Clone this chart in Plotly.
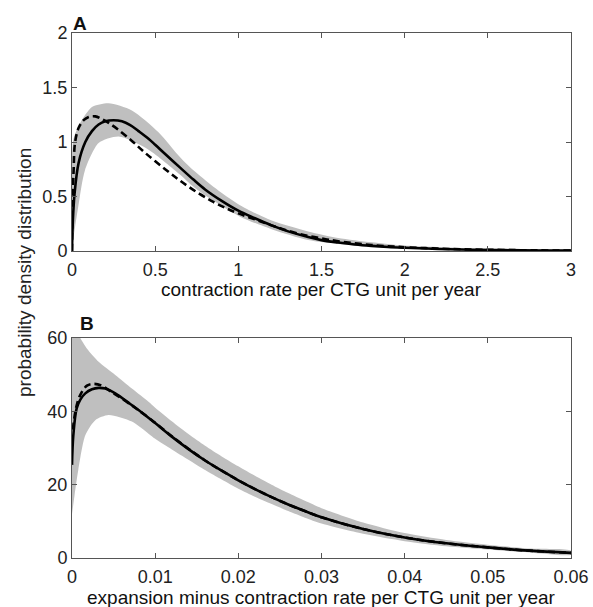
import plotly.graph_objects as go

# ---------------- Panel A data ----------------
a_solid_x = [0, 0.005, 0.015, 0.04, 0.08, 0.12, 0.16, 0.2, 0.25, 0.3, 0.35, 0.4, 0.46, 0.5, 0.56,
             0.65, 0.73, 0.8, 0.9, 1.0, 1.1, 1.2, 1.3, 1.42, 1.5, 1.6, 1.7, 1.8, 1.9, 2.0, 2.2,
             2.4, 2.6, 2.8, 3.0]
a_solid_y = [0, 0.27, 0.52, 0.81, 1.0, 1.1, 1.16, 1.19, 1.2, 1.19, 1.155, 1.1, 1.03, 0.975, 0.89,
             0.765, 0.655, 0.565, 0.46, 0.37, 0.3, 0.235, 0.18, 0.128, 0.1, 0.078, 0.06, 0.047,
             0.037, 0.03, 0.019, 0.012, 0.008, 0.005, 0.003]

a_dash_x = [0, 0.003, 0.01, 0.018, 0.04, 0.07, 0.1, 0.14, 0.18, 0.23, 0.28, 0.36, 0.44, 0.56,
            0.65, 0.75, 0.85, 0.93, 1.0, 1.1, 1.2, 1.3, 1.4, 1.5, 1.6, 1.8, 2.0, 2.2, 2.4, 2.6,
            2.8, 3.0]
a_dash_y = [0, 0.45, 0.75, 0.99, 1.13, 1.2, 1.23, 1.235, 1.21, 1.165, 1.11, 1.01, 0.9, 0.75,
            0.645, 0.54, 0.45, 0.39, 0.345, 0.29, 0.235, 0.185, 0.145, 0.115, 0.09, 0.055, 0.035,
            0.022, 0.014, 0.009, 0.006, 0.004]

a_upper_x = [0, 0.008, 0.048, 0.12, 0.22, 0.36, 0.52, 0.65, 0.73, 0.85, 1.01, 1.2, 1.42, 1.6,
             1.8, 2.0, 2.3, 2.6, 3.0]
a_upper_y = [0, 1.02, 1.17, 1.32, 1.355, 1.29, 1.09, 0.86, 0.74, 0.59, 0.42, 0.28, 0.18, 0.12,
             0.08, 0.05, 0.03, 0.015, 0.006]
a_lower_x = [0, 0.01, 0.038, 0.078, 0.16, 0.28, 0.46, 0.65, 0.73, 0.85, 1.01, 1.2, 1.42, 1.6,
             1.8, 2.0, 2.3, 2.6, 3.0]
a_lower_y = [0, 0.13, 0.41, 0.74, 0.99, 1.05, 0.93, 0.70, 0.59, 0.46, 0.315, 0.2, 0.1, 0.065,
             0.04, 0.025, 0.012, 0.006, 0.002]

# ---------------- Panel B data ----------------
b_solid_x = [0, 0.00016, 0.00056, 0.001, 0.0016, 0.0024, 0.0032, 0.004, 0.0052, 0.007, 0.0085,
             0.01, 0.012, 0.014, 0.016, 0.018, 0.02, 0.022, 0.024, 0.026, 0.028, 0.03, 0.035,
             0.04, 0.045, 0.05, 0.055, 0.06]
b_solid_y = [25.4, 33.5, 40.8, 43.2, 44.9, 46.0, 46.4, 46.2, 44.9, 42.0, 39.5,
             36.8, 33.1, 29.7, 26.6, 23.8, 21.2, 18.8, 16.6, 14.6, 12.8, 11.1, 7.9,
             5.6, 4.0, 2.9, 2.0, 1.4]

b_dash_x = [0.0001, 0.0005, 0.001, 0.0018, 0.0026, 0.0036, 0.0046, 0.006, 0.008, 0.01, 0.012,
            0.014, 0.016, 0.018, 0.02, 0.022, 0.024, 0.026, 0.028, 0.03, 0.035, 0.04, 0.045,
            0.05, 0.055, 0.06]
b_dash_y = [35, 41, 44.5, 47.0, 47.5, 47.0, 45.5, 43.5, 40.3, 36.9, 33.2,
            29.8, 26.6, 23.8, 21.2, 18.8, 16.6, 14.6, 12.8, 11.1, 7.9, 5.6, 4.0,
            2.9, 2.0, 1.4]

b_upper_x = [0, 0.001, 0.002, 0.0032, 0.0052, 0.0072, 0.0092, 0.01, 0.012, 0.014, 0.016, 0.018,
             0.02, 0.022, 0.024, 0.026, 0.028, 0.03, 0.035, 0.04, 0.045, 0.05, 0.055, 0.06]
b_upper_y = [66, 60, 56.5, 53.5, 49.9, 46.2, 42.6, 41.0, 37.3, 33.8, 30.6, 27.7,
             25.0, 22.4, 20.0, 17.7, 15.6, 13.6, 9.7, 6.8, 4.9, 3.6, 2.6, 2.0]
b_lower_x = [0, 0.0003, 0.00076, 0.0016, 0.0028, 0.0044, 0.0072, 0.0092, 0.01, 0.012, 0.014,
             0.016, 0.018, 0.02, 0.022, 0.024, 0.026, 0.028, 0.03, 0.035, 0.04, 0.045, 0.05,
             0.055, 0.06]
b_lower_y = [12, 17, 24.1, 33.5, 37.6, 39.0, 37.2, 33.9, 32.5, 29.6, 26.8,
             24.0, 21.4, 18.9, 16.7, 14.7, 12.8, 11.0, 9.4, 6.6, 4.6, 3.2, 2.3,
             1.5, 0.9]

# Axis ticks / labels
a_xticks = [0, 0.5, 1, 1.5, 2, 2.5, 3]
a_xlabels = ["0", "0.5", "1", "1.5", "2", "2.5", "3"]
a_yticks = [0, 0.5, 1, 1.5, 2]
a_ylabels = ["0", "0.5", "1", "1.5", "2"]
b_xticks = [0, 0.01, 0.02, 0.03, 0.04, 0.05, 0.06]
b_xlabels = ["0", "0.01", "0.02", "0.03", "0.04", "0.05", "0.06"]
b_yticks = [0, 20, 40, 60]
b_ylabels = ["0", "20", "40", "60"]

FONT = "Liberation Sans, Arial, Helvetica, sans-serif"
BAND = "#bfbfbf"
LINE_W = 2.6
DASH = "7px,4px"

fig = go.Figure()


def add_panel(xa, ya, ux, uy, lx, ly, sx, sy, dx, dy):
    fig.add_trace(go.Scatter(
        x=list(ux) + list(lx[::-1]), y=list(uy) + list(ly[::-1]),
        fill="toself", fillcolor=BAND,
        line=dict(width=0, color=BAND, shape="spline", smoothing=0.7),
        mode="lines", hoverinfo="skip", showlegend=False, xaxis=xa, yaxis=ya))
    fig.add_trace(go.Scatter(
        x=sx, y=sy, mode="lines", line=dict(color="black", width=LINE_W, shape="spline"),
        showlegend=False, xaxis=xa, yaxis=ya))
    fig.add_trace(go.Scatter(
        x=dx, y=dy, mode="lines",
        line=dict(color="black", width=LINE_W, dash=DASH, shape="spline"),
        showlegend=False, xaxis=xa, yaxis=ya))


add_panel("x", "y", a_upper_x, a_upper_y, a_lower_x, a_lower_y,
          a_solid_x, a_solid_y, a_dash_x, a_dash_y)
add_panel("x2", "y2", b_upper_x, b_upper_y, b_lower_x, b_lower_y,
          b_solid_x, b_solid_y, b_dash_x, b_dash_y)

axis_common = dict(
    showline=True, linecolor="#555555", linewidth=1, mirror="ticks",
    ticks="inside", ticklen=5, tickwidth=1, tickcolor="#555555",
    showgrid=False, zeroline=False, ticklabeloverflow="allow", automargin=False,
    tickfont=dict(family=FONT, size=18, color="#222222"),
)

TOP_LO = (558 - 251) / 525.0
BOT_HI = (558 - 338) / 525.0

fig.update_layout(
    width=593, height=607, autosize=False,
    margin=dict(l=72, r=22, t=33, b=49, autoexpand=False),
    paper_bgcolor="white", plot_bgcolor="white",
    font=dict(family=FONT, color="#222222"),
    xaxis=dict(axis_common, range=[0, 3], tickvals=a_xticks, ticktext=a_xlabels,
               anchor="y", domain=[0, 1], ticklabelstandoff=2),
    yaxis=dict(axis_common, range=[0, 2], tickvals=a_yticks, ticktext=a_ylabels,
               anchor="x", domain=[TOP_LO, 1], ticklabelstandoff=0),
    xaxis2=dict(axis_common, range=[0, 0.06], tickvals=b_xticks, ticktext=b_xlabels,
                anchor="y2", domain=[0, 1], ticklabelstandoff=2),
    yaxis2=dict(axis_common, range=[0, 60], tickvals=b_yticks, ticktext=b_ylabels,
                anchor="x2", domain=[0, BOT_HI], ticklabelstandoff=0),
)


def py(oy):
    return (558 - oy) / 525.0


def px(ox):
    return (ox - 72) / (571 - 72.0)


ann = [
    dict(text="contraction rate per CTG unit per year", x=0.5, y=py(289), size=19, bold=False),
    dict(text="expansion minus contraction rate per CTG unit per year", x=0.5, y=py(597), size=19, bold=False),
    dict(text="A", x=px(80), y=py(23), size=19, bold=True),
    dict(text="B", x=px(87), y=py(323), size=19, bold=True),
]
for a in ann:
    fig.add_annotation(
        text=("<b>%s</b>" % a["text"]) if a["bold"] else a["text"],
        x=a["x"], y=a["y"], xref="paper", yref="paper",
        xanchor="center", yanchor="middle", showarrow=False,
        font=dict(family=FONT, size=a["size"], color="#111111"))

fig.add_annotation(
    text="probability density distribution", textangle=-90,
    x=px(24), y=py(273), xref="paper", yref="paper",
    xanchor="center", yanchor="middle", showarrow=False,
    font=dict(family=FONT, size=19, color="#222222"))

# remove the browser's default 8px body margin so the 593x607 figure fills the window;
# keep the figure at a fixed size and hide the mode bar
fig.write_html(
    "out.html",
    config={"responsive": False, "displayModeBar": False},
    post_script="document.body.style.margin='0';document.body.style.overflow='hidden';",
)
